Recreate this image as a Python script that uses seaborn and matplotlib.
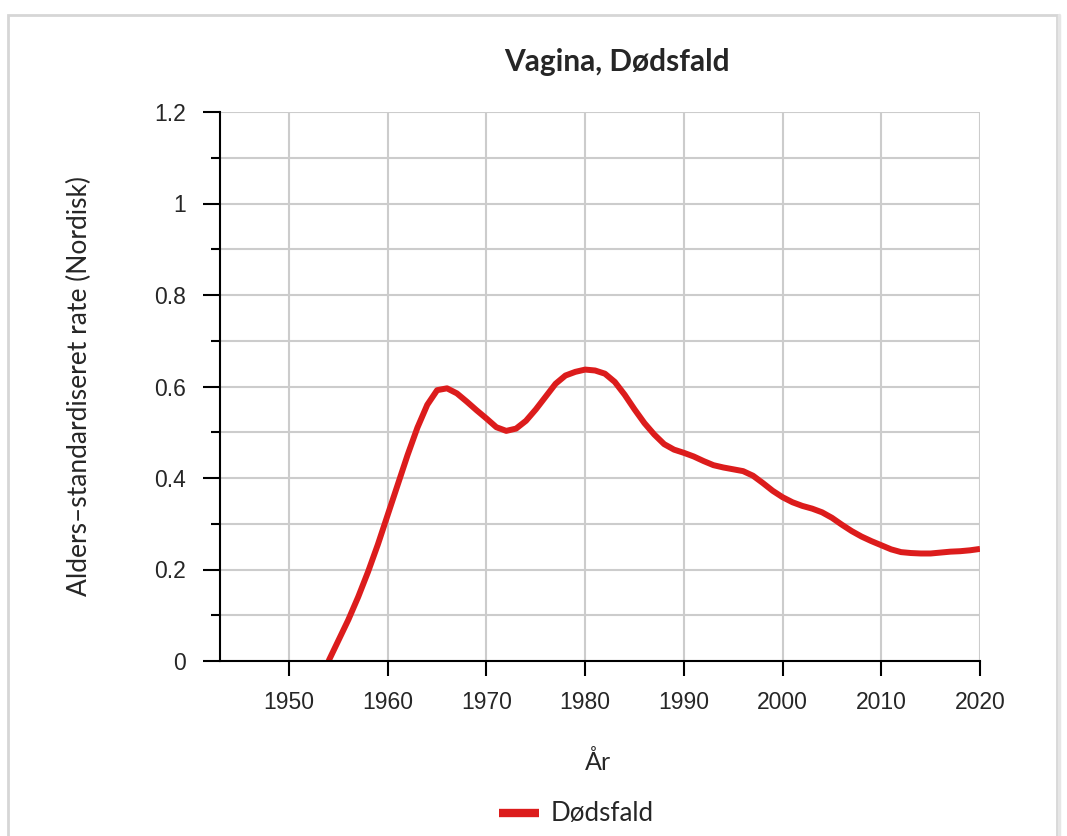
import matplotlib
matplotlib.use("Agg")
import matplotlib.pyplot as plt
import seaborn as sns
import pandas as pd
import numpy as np
from matplotlib.patches import Rectangle
from matplotlib.lines import Line2D
from matplotlib.ticker import MultipleLocator

years = list(range(1954, 2021))
deaths = [0.0, 0.045, 0.09, 0.14, 0.195, 0.255, 0.32, 0.385, 0.45, 0.51,
          0.56, 0.592, 0.596, 0.585, 0.567, 0.548, 0.530, 0.511, 0.503, 0.508,
          0.525, 0.550, 0.578, 0.606, 0.624, 0.632, 0.637, 0.635, 0.628, 0.610,
          0.582, 0.550, 0.520, 0.495, 0.474, 0.462, 0.455, 0.447, 0.437, 0.428,
          0.423, 0.419, 0.415, 0.405, 0.389, 0.372, 0.358, 0.347, 0.339, 0.333,
          0.325, 0.313, 0.298, 0.284, 0.272, 0.262, 0.253, 0.244, 0.238, 0.236,
          0.235, 0.235, 0.237, 0.239, 0.240, 0.242, 0.245]
series_name = "Dødsfald"
title = "Vagina, Dødsfald"
xlabel = "År"
ylabel = "Alders–standardiseret rate (Nordisk)"
xticks = [1950, 1960, 1970, 1980, 1990, 2000, 2010, 2020]
yticks = [0, 0.2, 0.4, 0.6, 0.8, 1.0, 1.2]
ytick_labels = ["0", "0.2", "0.4", "0.6", "0.8", "1", "1.2"]

df = pd.DataFrame({"year": years, "rate": deaths})

sns.set_style("white")
plt.rcParams['font.family'] = ['Liberation Sans', 'DejaVu Sans']
text_font = ['Lato', 'DejaVu Sans']

W, H = 1067, 836
fig = plt.figure(figsize=(W / 100, H / 100), dpi=100)
ax = fig.add_axes([220 / W, 1 - 661 / H, (980 - 220) / W, (661 - 112) / H])

red = "#dc1c1c"
sns.lineplot(data=df, x="year", y="rate", ax=ax, color=red, linewidth=4.3,
             legend=False, solid_capstyle="butt")

ax.set_xlim(1943, 2020)
ax.set_ylim(0, 1.2)
ax.set_xticks(xticks)
ax.set_xticklabels([str(x) for x in xticks], family=['Liberation Sans', 'DejaVu Sans'])
ax.set_yticks(yticks)
ax.set_yticklabels(ytick_labels, family=['Liberation Sans', 'DejaVu Sans'])
ax.yaxis.set_minor_locator(MultipleLocator(0.1))

ax.grid(True, which="major", axis="x", color="#cccccc", linewidth=1.5)
ax.grid(True, which="both", axis="y", color="#cccccc", linewidth=1.5)
ax.set_axisbelow(True)

for s in ["top", "right"]:
    ax.spines[s].set_visible(False)
for s in ["left", "bottom"]:
    ax.spines[s].set_color("black")
    ax.spines[s].set_linewidth(1.5)

ax.tick_params(axis="x", which="major", direction="out", length=10.5, width=1.5,
               color="black", labelsize=16.5, pad=11, bottom=True)
ax.tick_params(axis="y", which="major", direction="out", length=12.5, width=1.5,
               color="black", labelsize=16.5, pad=12, left=True)
ax.tick_params(axis="y", which="minor", direction="out", length=6.5, width=1.5,
               color="black", left=True)

ax.set_xlabel("")
ax.set_ylabel("")

fig.text(79 / W, 1 - 386 / H, ylabel, rotation=90, ha="center", va="center",
         fontsize=19, family=text_font)
fig.text(598 / W, 1 - 762 / H, xlabel, ha="center", va="center",
         fontsize=18, family=text_font)
fig.text(617 / W, 1 - 62 / H, title, ha="center", va="center",
         fontsize=21.5, fontweight="bold", family=text_font)

# legend
fig.add_artist(Line2D([499 / W, 539 / W], [1 - 813 / H, 1 - 813 / H],
                      transform=fig.transFigure, color=red, linewidth=6,
                      solid_capstyle="butt"))
fig.text(551 / W, 1 - 813 / H, series_name, ha="left", va="center",
         fontsize=18.6, family=text_font)

# frame
fig.add_artist(Rectangle((8 / W, -0.05), (1057 - 8) / W, 1 - 15 / H + 0.05,
                         transform=fig.transFigure, fill=False,
                         edgecolor="#d6d6d6", linewidth=2))
fig.add_artist(Line2D([1058.5 / W, 1058.5 / W], [0, 1 - 15 / H],
                      transform=fig.transFigure, color="#e6e6e6", linewidth=2.5))

fig.savefig("out.png", dpi=100)
